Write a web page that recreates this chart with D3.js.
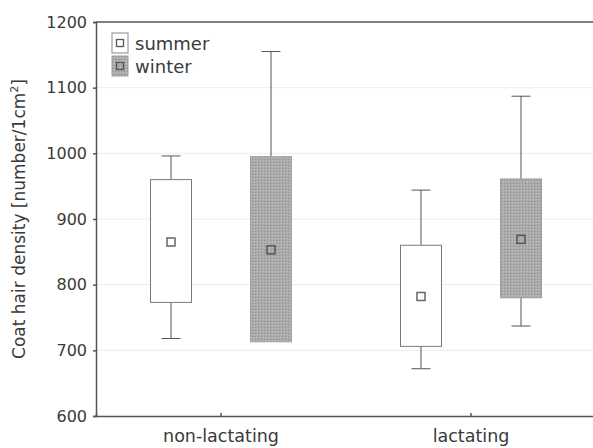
<!DOCTYPE html>
<html>
<head>
<meta charset="utf-8">
<script src="https://cdn.jsdelivr.net/npm/d3@7"></script>
<style>
  body { margin: 0; background: #fff; }
  text { font-family: "DejaVu Sans", sans-serif; fill: #3a3a3a; }
</style>
</head>
<body>
<div id="chart"></div>
<script>
// groups on the x axis and the two seasons
var groups = ["non-lactating", "lactating"];
var seasons = ["summer", "winter"];

// values, per group: [summer, winter]
var whiskerLow  = [[718, 713], [672, 737]];
var boxLow      = [[773, 713], [706, 780]];
var means       = [[865, 853], [782, 869]];
var boxHigh     = [[960, 995], [860, 961]];
var whiskerHigh = [[996, 1155], [944, 1087]];

var yTicks = [600, 700, 800, 900, 1000, 1100, 1200];

var width = 593, height = 448;
var margin = {left: 96, top: 22, bottom: 32};

var svg = d3.select("#chart").append("svg")
    .attr("width", width)
    .attr("height", height);

// stipple fill for the winter boxes
var defs = svg.append("defs");
var pat = defs.append("pattern")
    .attr("id", "dots")
    .attr("width", 3).attr("height", 3)
    .attr("patternUnits", "userSpaceOnUse");
pat.append("rect").attr("width", 3).attr("height", 3).attr("fill", "#acacac");
pat.append("rect").attr("width", 1).attr("height", 1).attr("fill", "#8e8e8e");
pat.append("rect").attr("x", 2).attr("y", 1).attr("width", 1).attr("height", 1).attr("fill", "#bdbdbd");

var x = d3.scaleBand()
    .domain(groups)
    .range([margin.left, margin.left + 500]);

var xs = d3.scaleBand()
    .domain(seasons)
    .range([-100, 100]);

var y = d3.scaleLinear()
    .domain([600, 1200])
    .range([height - margin.bottom, margin.top]);

var boxW = 41, capW = 19, markW = 8;

// grid lines
svg.append("g")
    .selectAll("line")
    .data(yTicks.slice(1, -1)).enter()
    .append("line")
    .attr("x1", margin.left).attr("x2", width)
    .attr("y1", function(d) { return y(d); })
    .attr("y2", function(d) { return y(d); })
    .attr("stroke", "#ececec")
    .attr("stroke-width", 1);

// build one record per box
var boxes = [];
groups.forEach(function(g, gi) {
    seasons.forEach(function(s, si) {
        boxes.push({
            group: g, season: s,
            wl: whiskerLow[gi][si], bl: boxLow[gi][si], m: means[gi][si],
            bh: boxHigh[gi][si], wh: whiskerHigh[gi][si]
        });
    });
});

function cx(d) { return x(d.group) + x.bandwidth() / 2 + xs(d.season) + xs.bandwidth() / 2; }

var b = svg.append("g").selectAll("g")
    .data(boxes).enter()
    .append("g");

// whiskers
b.append("line")
    .attr("x1", cx).attr("x2", cx)
    .attr("y1", function(d) { return y(d.wl); })
    .attr("y2", function(d) { return y(d.bl); })
    .attr("stroke", "#555");
b.append("line")
    .attr("x1", cx).attr("x2", cx)
    .attr("y1", function(d) { return y(d.bh); })
    .attr("y2", function(d) { return y(d.wh); })
    .attr("stroke", "#555");
b.filter(function(d) { return d.wl < d.bl; })
    .append("line")
    .attr("x1", function(d) { return cx(d) - capW / 2; })
    .attr("x2", function(d) { return cx(d) + capW / 2; })
    .attr("y1", function(d) { return y(d.wl); })
    .attr("y2", function(d) { return y(d.wl); })
    .attr("stroke", "#555");
b.append("line")
    .attr("x1", function(d) { return cx(d) - capW / 2; })
    .attr("x2", function(d) { return cx(d) + capW / 2; })
    .attr("y1", function(d) { return y(d.wh); })
    .attr("y2", function(d) { return y(d.wh); })
    .attr("stroke", "#555");

// boxes
b.append("rect")
    .attr("x", function(d) { return cx(d) - boxW / 2; })
    .attr("y", function(d) { return y(d.bh); })
    .attr("width", boxW)
    .attr("height", function(d) { return y(d.bl) - y(d.bh); })
    .attr("fill", function(d) { return d.season == "summer" ? "#fff" : "url(#dots)"; })
    .attr("stroke", function(d) { return d.season == "summer" ? "#7a7a7a" : "#a0a0a0"; })
    .attr("stroke-width", 1);

// mean markers
b.append("rect")
    .attr("x", function(d) { return cx(d) - markW / 2; })
    .attr("y", function(d) { return y(d.m) - markW / 2; })
    .attr("width", markW).attr("height", markW)
    .attr("fill", function(d) { return d.season == "summer" ? "#fff" : "url(#dots)"; })
    .attr("stroke", function(d) { return d.season == "summer" ? "#666" : "#555"; })
    .attr("stroke-width", 1.5);

// axes
var yAxis = svg.append("g")
    .attr("transform", "translate(" + margin.left + ",0)")
    .call(d3.axisLeft(y).tickValues(yTicks).tickFormat(d3.format("d")).tickSize(3).tickPadding(6));
yAxis.selectAll("text").style("font-size", "16px");

var xAxis = svg.append("g")
    .attr("transform", "translate(0," + (height - margin.bottom) + ")")
    .call(d3.axisBottom(x).tickSize(-3).tickPadding(10));
xAxis.selectAll("text").style("font-size", "17.5px").attr("dy", "0.9em");

svg.selectAll(".domain, .tick line").attr("stroke", "#555").attr("stroke-width", 1.5);

// top frame line
svg.append("line")
    .attr("x1", margin.left).attr("x2", width)
    .attr("y1", y(1200)).attr("y2", y(1200))
    .attr("stroke", "#555").attr("stroke-width", 1.5);

// y title
svg.append("text")
    .attr("transform", "translate(25," + ((y(600) + y(1200)) / 2) + ") rotate(-90)")
    .attr("text-anchor", "middle")
    .style("font-size", "17px")
    .html("Coat hair density [number/1cm<tspan dy='-7' style='font-size:11px'>2</tspan><tspan dy='7'>]</tspan>");

// legend
var legend = svg.append("g").selectAll("g")
    .data(seasons).enter()
    .append("g")
    .attr("transform", function(d, i) { return "translate(112," + (33 + i * 23) + ")"; });
legend.append("rect")
    .attr("width", 16).attr("height", 20)
    .attr("fill", function(d) { return d == "summer" ? "#fff" : "url(#dots)"; })
    .attr("stroke", function(d) { return d == "summer" ? "#888" : "#a0a0a0"; });
legend.append("rect")
    .attr("x", 4.5).attr("y", 6.5)
    .attr("width", 7).attr("height", 7)
    .attr("fill", function(d) { return d == "summer" ? "#fff" : "url(#dots)"; })
    .attr("stroke", "#555").attr("stroke-width", 1.3);
legend.append("text")
    .attr("x", 23).attr("y", 17)
    .style("font-size", "18px")
    .text(function(d) { return d; });
</script>
</body>
</html>
